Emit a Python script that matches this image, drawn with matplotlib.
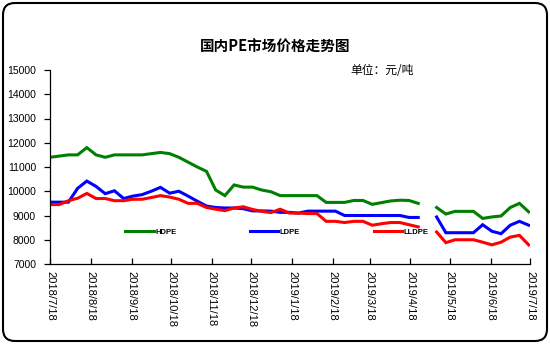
import numpy as np
import pandas as pd
import matplotlib
matplotlib.use("Agg")
import matplotlib.pyplot as plt
from matplotlib.patches import FancyBboxPatch

plt.rcParams['font.family'] = ['Liberation Sans', 'Noto Sans CJK SC', 'DejaVu Sans']

# Weekly quotes, yuan/ton; NaN = no quote that week (May Day holiday)
dates = pd.date_range("2018-07-18", periods=53, freq="7D")

hdpe = [11400, 11450, 11500, 11500, 11800, 11500, 11400, 11500, 11500, 11500,
        11500, 11550, 11600, 11550, 11400, 11200, 11000, 10820, 10050, 9820,
        10260, 10170, 10170, 10050, 9980, 9820, 9820, 9820, 9820, 9820,
        9540, 9540, 9540, 9620, 9620, 9460, 9530, 9600, 9630, 9620,
        9500, np.nan, 9330, 9060, 9170, 9170, 9170, 8880, 8940, 8980,
        9330, 9500, 9150]

ldpe = [9550, 9550, 9550, 10120, 10420, 10200, 9900, 10020, 9700, 9800,
        9860, 10000, 10160, 9920, 10000, 9800, 9590, 9390, 9330, 9310,
        9310, 9280, 9190, 9190, 9180, 9130, 9130, 9100, 9180, 9180,
        9180, 9180, 9000, 9000, 9000, 9000, 9000, 9000, 9000, 8920,
        8920, np.nan, 8940, 8290, 8290, 8290, 8290, 8620, 8350, 8250,
        8600, 8760, 8600]

lldpe = [9450, 9450, 9610, 9710, 9910, 9700, 9700, 9610, 9610, 9670,
         9670, 9740, 9820, 9760, 9670, 9500, 9500, 9330, 9260, 9200,
         9310, 9360, 9250, 9170, 9120, 9260, 9100, 9100, 9080, 9080,
         8760, 8760, 8710, 8760, 8760, 8600, 8660, 8710, 8710, 8620,
         8530, np.nan, 8320, 7880, 8000, 8000, 8000, 7900, 7790, 7900,
         8110, 8180, 7790]

series_names = ["HDPE", "LDPE", "LLDPE"]
series_colors = ["#008000", "#0000FF", "#FF0000"]

title_text = "国内PE市场价格走势图"
unit_text = "单位：元/吨"
tick_dates = pd.date_range("2018-07-01", "2019-07-01", freq="MS") + pd.Timedelta(days=17)
y_ticks = list(range(7000, 15001, 1000))

fig = plt.figure(figsize=(5.5, 3.44), dpi=100)
ax = fig.add_axes([50 / 550, 1 - 264 / 344, 480 / 550, 194 / 344])

for vals, name, color in zip([hdpe, ldpe, lldpe], series_names, series_colors):
    ax.plot(dates, vals, color=color, lw=2.2, label=name, solid_joinstyle="miter")

ax.set_xlim(pd.Timestamp("2018-07-18"), pd.Timestamp("2019-07-18"))
ax.set_ylim(7000, 15000)
ax.set_yticks(y_ticks)
ax.set_yticklabels([str(v) for v in y_ticks], fontsize=7.5)
ax.set_xticks(tick_dates)
ax.set_xticklabels([f"{d.year}/{d.month}/{d.day}" for d in tick_dates],
                   rotation=-90, fontsize=8, va="top", ha="center")

for side in ("top", "right"):
    ax.spines[side].set_visible(False)
ax.spines["left"].set_linewidth(0.9)
ax.spines["bottom"].set_linewidth(0.9)
ax.tick_params(axis="y", direction="out", length=4, width=0.9, pad=6)
ax.tick_params(axis="x", direction="in", length=4, width=0.9, pad=5)

leg = ax.legend(loc="center", bbox_to_anchor=(0.473, 0.165), ncol=3, frameon=False,
                fontsize=5.5, handlelength=3.7, handletextpad=0.22,
                columnspacing=9.6, borderpad=0)
for t in leg.get_texts():
    t.set_fontweight("bold")

fig.text(275 / 550, 1 - 47 / 344, title_text, ha="center", va="center",
         fontsize=10.5, fontweight="bold", family=["Noto Sans CJK SC", "DejaVu Sans"])
fig.text(350 / 550, 1 - 70 / 344, unit_text, ha="left", va="center",
         fontsize=8.5, family=["Noto Sans CJK SC", "DejaVu Sans"])

# Rounded frame around the whole chart
frame = FancyBboxPatch((0.03, 0.03), 5.44, 3.38,
                       boxstyle="round,pad=0,rounding_size=0.12",
                       transform=fig.dpi_scale_trans, fill=False,
                       edgecolor="black", lw=1.5)
fig.add_artist(frame)

fig.savefig("out.png", dpi=100)
